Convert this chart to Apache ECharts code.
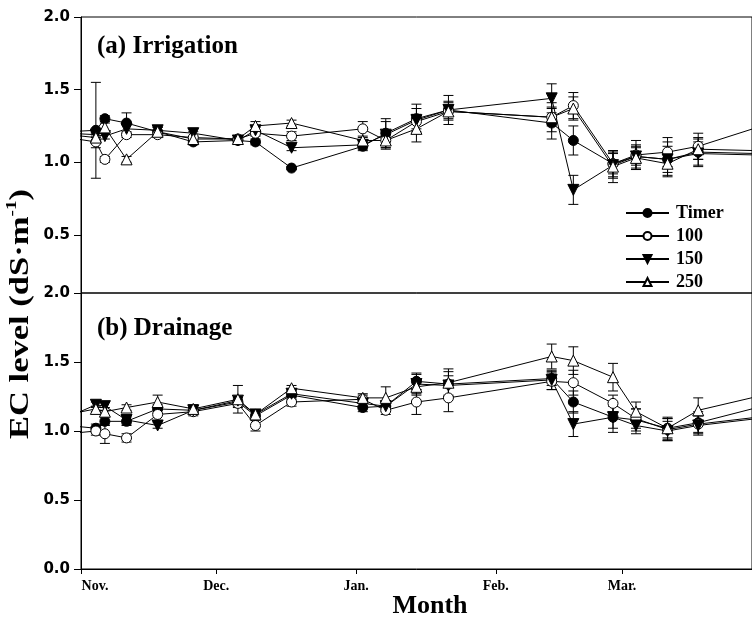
<!DOCTYPE html>
<html><head><meta charset="utf-8">
<script src="https://cdn.jsdelivr.net/npm/echarts@6/dist/echarts.min.js"></script>
<style>html,body{margin:0;padding:0;background:#fff}#c{width:752px;height:628px}</style>
</head><body><div id="c"></div>
<script>
// sampling days counted from Nov. 1
const dates = [-3, 3.3, 5.3, 10.1, 17, 24.9, 34.8, 38.7, 46.7, 62.5, 67.6, 74.4, 81.5, 104.4, 109.2, 118, 123.1, 130.1, 136.9, 150];
const monthTicks = [0, 30, 61, 92, 120];
const monthLabels = ['Nov.', 'Dec.', 'Jan.', 'Feb.', 'Mar.'];
const yTicksTop = [0.5, 1.0, 1.5, 2.0];
const seriesNames = ['Timer', '100', '150', '250'];

// (a) Irrigation
const irrTimer = [1.21, 1.22, 1.30, 1.27, 1.21, 1.14, 1.15, 1.14, 0.96, 1.11, 1.20, 1.30, 1.36, 1.27, 1.15, 0.99, 1.04, 1.02, 1.07, 1.06];
const irr100   = [1.17, 1.14, 1.02, 1.19, 1.19, 1.17, 1.16, 1.20, 1.18, 1.23, 1.15, 1.28, 1.35, 1.31, 1.39, 0.99, 1.05, 1.07, 1.11, 1.24];
const irr150   = [1.20, 1.19, 1.18, 1.23, 1.22, 1.20, 1.15, 1.22, 1.10, 1.12, 1.19, 1.29, 1.36, 1.44, 0.81, 0.98, 1.04, 1.02, 1.06, 1.05];
const irr250   = [1.19, 1.17, 1.24, 1.02, 1.21, 1.16, 1.16, 1.25, 1.27, 1.15, 1.15, 1.23, 1.35, 1.31, 1.37, 0.97, 1.03, 0.99, 1.09, 1.08];
const irrTimerErr = [0, 0.33, 0.02, 0.07, 0.03, 0.02, 0.02, 0.02, 0.01, 0.03, 0.10, 0.10, 0.10, 0.11, 0.10, 0.09, 0.06, 0.12, 0.10, 0];
const irr100Err   = [0, 0.04, 0.02, 0.02, 0.02, 0.04, 0.02, 0.02, 0.03, 0.05, 0.03, 0.05, 0.03, 0.10, 0.09, 0.07, 0.10, 0.10, 0.09, 0];
const irr150Err   = [0, 0.02, 0.02, 0.04, 0.03, 0.03, 0.02, 0.02, 0.02, 0.03, 0.09, 0.08, 0.06, 0.10, 0.10, 0.09, 0.08, 0.09, 0.08, 0];
const irr250Err   = [0, 0.03, 0.03, 0.02, 0.03, 0.02, 0.02, 0.03, 0.02, 0.02, 0.06, 0.09, 0.06, 0.06, 0.08, 0.11, 0.08, 0.08, 0.07, 0];

// (b) Drainage
const draTimer = [1.04, 1.02, 1.07, 1.07, 1.16, 1.15, 1.21, 1.11, 1.26, 1.17, 1.18, 1.36, 1.34, 1.38, 1.21, 1.10, 1.08, 1.02, 1.06, 1.17];
const dra100   = [0.98, 1.00, 0.98, 0.95, 1.12, 1.14, 1.20, 1.04, 1.21, 1.23, 1.15, 1.21, 1.24, 1.36, 1.35, 1.20, 1.09, 1.01, 1.05, 1.10];
const dra150   = [1.10, 1.19, 1.18, 1.08, 1.04, 1.15, 1.22, 1.12, 1.27, 1.20, 1.18, 1.34, 1.33, 1.37, 1.05, 1.10, 1.04, 1.00, 1.04, 1.09];
const dra250   = [1.12, 1.16, 1.14, 1.17, 1.21, 1.16, 1.23, 1.12, 1.31, 1.24, 1.24, 1.32, 1.35, 1.54, 1.51, 1.39, 1.14, 1.02, 1.15, 1.25];
const draTimerErr = [0, 0.03, 0.03, 0.03, 0.03, 0.03, 0.03, 0.03, 0.03, 0.03, 0.04, 0.06, 0.09, 0.05, 0.08, 0.11, 0.08, 0.08, 0.08, 0];
const dra100Err   = [0, 0.03, 0.07, 0.03, 0.05, 0.03, 0.03, 0.04, 0.03, 0.03, 0.03, 0.09, 0.10, 0.06, 0.09, 0.06, 0.07, 0.08, 0.06, 0];
const dra150Err   = [0, 0.02, 0.03, 0.03, 0.02, 0.02, 0.02, 0.03, 0.02, 0.02, 0.03, 0.07, 0.07, 0.07, 0.09, 0.08, 0.06, 0.07, 0.07, 0];
const dra250Err   = [0, 0.02, 0.03, 0.02, 0.05, 0.03, 0.10, 0.03, 0.02, 0.03, 0.08, 0.06, 0.10, 0.09, 0.10, 0.10, 0.07, 0.07, 0.09, 0];

const XMAX = 148.83;
const serif = 'Liberation Serif';
const sans = 'DejaVu Sans';

const markerStyles = {
  'Timer': {symbol: 'circle', size: 10, rotate: 0, fill: '#000'},
  '100':   {symbol: 'circle', size: 10, rotate: 0, fill: '#fff'},
  '150':   {symbol: 'triangle', size: 11, rotate: 180, fill: '#000'},
  '250':   {symbol: 'triangle', size: 11, rotate: 0, fill: '#fff'}
};

function lineSeries(name, idx, vals) {
  const m = markerStyles[name];
  return {
    name: name, type: 'line', xAxisIndex: idx, yAxisIndex: idx, z: 3,
    data: dates.map((d, i) => [d, vals[i]]),
    symbol: m.symbol, symbolSize: m.size, symbolRotate: m.rotate, showAllSymbol: true,
    lineStyle: {color: '#000', width: 1},
    itemStyle: {color: m.fill, borderColor: '#000', borderWidth: 1},
    emphasis: {disabled: true}, clip: true
  };
}
function errSeries(idx, vals, errs) {
  return {
    type: 'custom', xAxisIndex: idx, yAxisIndex: idx, z: 2, silent: true, clip: true,
    encode: {x: 0, y: 1},
    data: dates.map((d, i) => [d, vals[i], errs[i]]),
    renderItem: function (params, api) {
      const x = api.value(0), y = api.value(1), e = api.value(2);
      if (!e) return null;
      const t = api.coord([x, y + e]), b = api.coord([x, y - e]);
      const w = 5;
      const st = {stroke: '#000', lineWidth: 1};
      return {type: 'group', children: [
        {type: 'line', shape: {x1: t[0], y1: t[1], x2: b[0], y2: b[1]}, style: st},
        {type: 'line', shape: {x1: t[0] - w, y1: t[1], x2: t[0] + w, y2: t[1]}, style: st},
        {type: 'line', shape: {x1: b[0] - w, y1: b[1], x2: b[0] + w, y2: b[1]}, style: st}
      ]};
    }
  };
}

const yLabel = {show: true, color: '#000', fontFamily: sans, fontWeight: 'bold', fontSize: 15, margin: 11, formatter: v => Number(v).toFixed(1)};
const axisLineBlack = {show: true, lineStyle: {color: '#000', width: 1}};

const option = {
  animation: false,
  backgroundColor: '#fff',
  grid: [
    {left: 81, right: -5, top: 17, height: 276, show: true, borderColor: '#000', borderWidth: 1, backgroundColor: 'transparent'},
    {left: 81, right: -5, top: 293, height: 276, show: true, borderColor: '#000', borderWidth: 1, backgroundColor: 'transparent'}
  ],
  xAxis: [
    {gridIndex: 0, type: 'value', min: 0, max: XMAX, show: false, splitLine: {show: false}},
    {gridIndex: 1, type: 'value', min: 0, max: XMAX, splitLine: {show: false},
      axisLine: axisLineBlack,
      axisTick: {show: true, inside: false, length: 5, customValues: monthTicks, lineStyle: {color: '#000'}},
      axisLabel: {show: true, customValues: monthTicks, color: '#000', fontFamily: serif, fontWeight: 'bold', fontSize: 14, margin: 10,
        formatter: function (v) {
          const i = monthTicks.indexOf(Number(v));
          if (i === 0) return '{n|' + monthLabels[0] + '}';
          return i >= 0 ? monthLabels[i] : '';
        },
        rich: {n: {fontFamily: serif, fontWeight: 'bold', fontSize: 14, color: '#000', padding: [0, 0, 0, 28]}}
      }
    }
  ],
  yAxis: [
    {gridIndex: 0, type: 'value', min: 0.1, max: 2.0, splitLine: {show: false},
      axisLine: axisLineBlack,
      axisTick: {show: true, inside: false, length: 7, customValues: yTicksTop, lineStyle: {color: '#000'}},
      axisLabel: Object.assign({customValues: yTicksTop}, yLabel)},
    {gridIndex: 1, type: 'value', min: 0, max: 2.0, interval: 0.5, splitLine: {show: false},
      axisLine: axisLineBlack,
      axisTick: {show: true, inside: false, length: 7, lineStyle: {color: '#000'}},
      axisLabel: yLabel}
  ],
  legend: {
    data: seriesNames, orient: 'vertical', left: 620, top: 199,
    itemWidth: 43, itemHeight: 10, itemGap: 5, selectedMode: false,
    textStyle: {fontFamily: serif, fontWeight: 'bold', fontSize: 18, color: '#000', padding: [0, 0, 0, 2]}
  },
  graphic: [
    {type: 'text', left: 97, top: 34, style: {text: '(a) Irrigation', fontFamily: serif, fontWeight: 'bold', fontSize: 25, fill: '#000'}},
    {type: 'text', left: 97, top: 316, style: {text: '(b) Drainage', fontFamily: serif, fontWeight: 'bold', fontSize: 25, fill: '#000'}},
    {type: 'text', x: 430, y: 606, style: {text: 'Month', fontFamily: serif, fontWeight: 'bold', fontSize: 26, fill: '#000', align: 'center', verticalAlign: 'middle'}},
    {type: 'text', x: 20, y: 314, rotation: Math.PI / 2, scaleX: 1.28,
      style: {text: '{a|EC level (dS·m}{s|-1}{a|)}', align: 'center', verticalAlign: 'middle',
        rich: {
          a: {fontFamily: serif, fontWeight: 'bold', fontSize: 27, fill: '#000', lineHeight: 30, verticalAlign: 'bottom'},
          s: {fontFamily: serif, fontWeight: 'bold', fontSize: 15, fill: '#000', lineHeight: 15, verticalAlign: 'top'}
        }}}
  ],
  series: [
    errSeries(0, irrTimer, irrTimerErr), errSeries(0, irr100, irr100Err), errSeries(0, irr150, irr150Err), errSeries(0, irr250, irr250Err),
    errSeries(1, draTimer, draTimerErr), errSeries(1, dra100, dra100Err), errSeries(1, dra150, dra150Err), errSeries(1, dra250, dra250Err),
    lineSeries('Timer', 0, irrTimer), lineSeries('100', 0, irr100), lineSeries('150', 0, irr150), lineSeries('250', 0, irr250),
    lineSeries('Timer', 1, draTimer), lineSeries('100', 1, dra100), lineSeries('150', 1, dra150), lineSeries('250', 1, dra250)
  ]
};
const chart = echarts.init(document.getElementById('c'), null, {renderer: 'canvas'});
chart.setOption(option);
</script>
</body></html>
